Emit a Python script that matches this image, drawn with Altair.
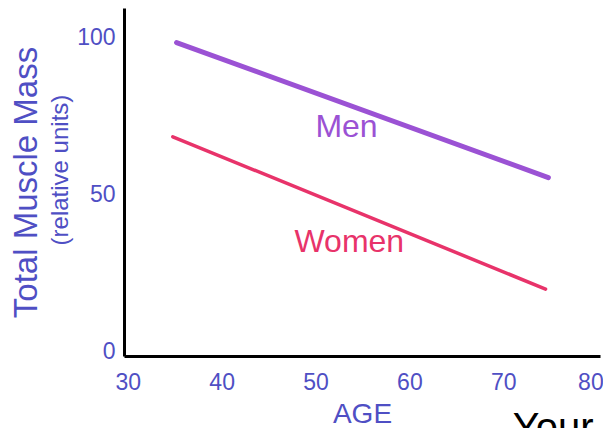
import altair as alt
import pandas as pd

men_ages = [35.2, 74.8]
men = [98.5, 55.5]
women_ages = [34.8, 74.5]
women = [68.5, 20]
x_ticks = [30, 40, 50, 60, 70, 80]
y_ticks = [0, 50, 100]
labels = ["Men", "Women"]
label_x = [53.3, 53.6]
label_y = [71.5, 35]

lines_df = pd.DataFrame({
    "age": men_ages + women_ages,
    "mass": men + women,
    "sex": ["Men", "Men", "Women", "Women"],
})
labels_df = pd.DataFrame({"x": label_x, "y": label_y, "label": labels})
note_df = pd.DataFrame({"x": [71.0], "y": [-18.2], "t": ["Your"]})
subtitle_df = pd.DataFrame({"x": [22.9], "y": [57.9], "t": ["(relative units)"]})

BLUE = "#4f4fc4"
FONT = "Liberation Sans"
color_scale = alt.Scale(domain=["Men", "Women"], range=["#9b52d4", "#e8336a"])
width_scale = alt.Scale(domain=["Men", "Women"], range=[5, 3.5])

xs = alt.Scale(domain=[29.6, 80.3], nice=False)
ys = alt.Scale(domain=[-1.3, 109.5], nice=False)

x_axis = alt.Axis(values=x_ticks, title="AGE", labelColor=BLUE, titleColor=BLUE,
                  labelFontSize=23, titleFontSize=28, titleFontWeight="normal",
                  labelFont=FONT, titleFont=FONT,
                  ticks=False, grid=False, domainColor="black", domainWidth=3,
                  labelPadding=15, titlePadding=6,
                  labelAlign={"expr": "datum.value == 80 ? 'right' : 'center'"},
                  labelOffset={"expr": "datum.value == 80 ? 6 : 0"})
y_axis = alt.Axis(values=y_ticks, title="Total Muscle Mass", labelColor=BLUE,
                  titleColor=BLUE, labelFontSize=23, titleFontSize=33,
                  titleFontWeight="normal", labelFont=FONT,
                  titleFont=FONT, ticks=False, grid=False,
                  domainColor="black", domainWidth=3, labelPadding=9,
                  titlePadding=33)

lines = alt.Chart(lines_df).mark_line(strokeCap="round").encode(
    x=alt.X("age:Q", scale=xs, axis=x_axis),
    y=alt.Y("mass:Q", scale=ys, axis=y_axis),
    color=alt.Color("sex:N", scale=color_scale, legend=None),
    strokeWidth=alt.StrokeWidth("sex:N", scale=width_scale, legend=None),
)

text = alt.Chart(labels_df).mark_text(fontSize=32, font=FONT).encode(
    x=alt.X("x:Q", scale=xs),
    y=alt.Y("y:Q", scale=ys),
    text="label:N",
    color=alt.Color("label:N", scale=color_scale, legend=None),
)

subtitle = alt.Chart(subtitle_df).mark_text(
    fontSize=24, font=FONT, color=BLUE, angle=270
).encode(
    x=alt.X("x:Q", scale=xs), y=alt.Y("y:Q", scale=ys), text="t:N"
)

note = alt.Chart(note_df).mark_text(
    fontSize=40, font=FONT, color="black", align="left", baseline="top"
).encode(
    x=alt.X("x:Q", scale=xs), y=alt.Y("y:Q", scale=ys), text="t:N"
)

chart = alt.layer(lines, text, subtitle, note).properties(
    width=476, height=348,
    autosize=alt.AutoSizeParams(type="none"),
    padding={"left": 116, "top": 0, "right": 3, "bottom": 72},
    background="white",
).configure_view(stroke=None)

chart.save("out.html", embed_options={"renderer": "svg", "actions": False})
